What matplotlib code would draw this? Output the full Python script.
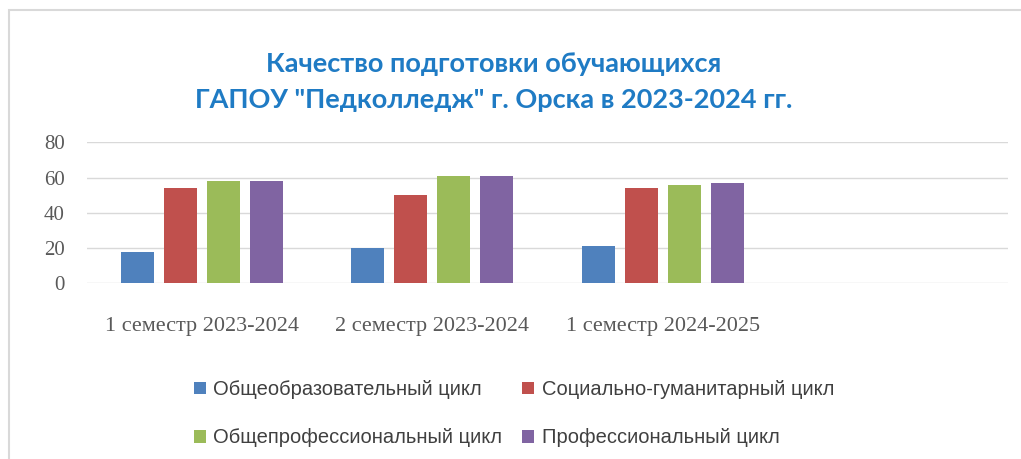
import numpy as np
import matplotlib
matplotlib.use("Agg")
import matplotlib.pyplot as plt
from matplotlib.patches import Rectangle

categories = ['1 семестр 2023-2024', '2 семестр 2023-2024', '1 семестр 2024-2025', '']
series_names = ['Общеобразовательный цикл', 'Социально-гуманитарный цикл',
                'Общепрофессиональный цикл', 'Профессиональный цикл']
general_ed = [18, 20, 21]
social_hum = [54, 50, 54]
general_prof = [58, 61, 56]
professional = [58, 61, 57]
colors = ['#4f81bd', '#c0504d', '#9bbb59', '#8064a2']

fig = plt.figure(figsize=(10.21, 4.59), dpi=100)
fig.patches.append(Rectangle((9 / 1021, -0.1), 1.2, (459 - 10) / 459 + 0.1,
                             transform=fig.transFigure, fill=False,
                             edgecolor='#d9d9d9', linewidth=1.5))

ax = fig.add_axes([87 / 1021, (459 - 283.3) / 459, 921 / 1021, 141 / 459])

values = [general_ed, social_hum, general_prof, professional]
step = 0.187
width = 0.143
bars = []
for j, vals in enumerate(values):
    x = np.arange(len(vals)) + (j - 1.5) * step
    bars.append(ax.bar(x, vals, width, color=colors[j], label=series_names[j], zorder=3))

ax.set_xlim(-0.5, len(categories) - 0.5)
ax.set_ylim(0, 80)
ax.set_yticks([0, 20, 40, 60, 80])
ax.set_xticks(range(len(categories)))
ax.set_xticklabels(categories, fontsize=16, family='Liberation Serif', color='#595959')
for lbl in ax.get_yticklabels():
    lbl.set_fontsize(15)
    lbl.set_family('Liberation Serif')
    lbl.set_color('#595959')
ax.tick_params(length=0, axis='y', pad=16)
ax.tick_params(length=0, axis='x', pad=24)
ax.grid(axis='y', color='#d9d9d9', linewidth=1, zorder=0)
for s in ax.spines.values():
    s.set_visible(False)

fig.text(494 / 1021, 1 - 82 / 459, 'Качество подготовки обучающихся\nГАПОУ "Педколледж" г. Орска в 2023-2024 гг.',
         ha='center', va='center', fontsize=19.5, fontweight='bold', color='#1f7bc4',
         family='Lato', linespacing=1.65)

order = [0, 2, 1, 3]
leg = fig.legend([bars[i] for i in order], [series_names[i] for i in order],
                 loc='upper left', bbox_to_anchor=(176 / 1021, 1 - 362 / 459), ncol=2,
                 frameon=False, handlelength=0.6, handleheight=0.6,
                 handletextpad=0.35, columnspacing=1.0, labelspacing=1.45,
                 prop={'family': 'Liberation Sans', 'size': 14.5})
for t in leg.get_texts():
    t.set_color('#404040')

fig.savefig('out.png', dpi=100)
